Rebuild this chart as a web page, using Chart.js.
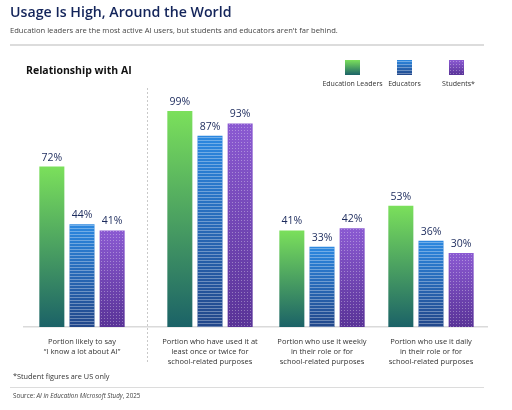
<!DOCTYPE html>
<html><head><meta charset="utf-8">
<script src="https://cdn.jsdelivr.net/npm/chart.js@4/dist/chart.umd.min.js"></script>
<style>
body{margin:0;background:#fff;width:512px;height:410px;overflow:hidden;font-family:"Open Sans",sans-serif;}
#wrap{position:relative;width:512px;height:410px;}
canvas{position:absolute;left:0;top:0;}
.t{position:absolute;white-space:nowrap;line-height:1;}
.rule{position:absolute;left:10px;width:474px;height:1px;background:#dcdcdc;}
</style></head><body>
<div id="wrap">
<canvas id="c" width="512" height="410"></canvas>
<div class="t" style="left:10px;top:5px;font-size:14.2px;font-weight:600;color:#13245a">Usage Is High, Around the World</div>
<div class="t" style="left:10px;top:27px;font-size:7.6px;color:#444">Education leaders are the most active AI users, but students and educators aren't far behind.</div>
<div class="rule" style="top:44px;height:1.5px"></div>
<div class="t" style="left:26px;top:65px;font-size:10.5px;font-weight:700;color:#111">Relationship with AI</div>
<div class="t" style="left:13px;top:373px;font-size:7.3px;color:#333">*Student figures are US only</div>
<div class="rule" style="top:387px"></div>
<div class="t" style="left:13px;top:393px;font-size:6.3px;color:#444">Source: <i>AI in Education Microsoft Study</i>, 2025</div>
</div>
<script>
// ---- data ----
const categories = [
  ["Portion likely to say", "\u201CI know a lot about AI\u201D"],
  ["Portion who have used it at", "least once or twice for", "school-related purposes"],
  ["Portion who use it weekly", "in their role or for", "school-related purposes"],
  ["Portion who use it daily", "in their role or for", "school-related purposes"]
];
const seriesNames = ["Education Leaders", "Educators", "Students*"];
const educationLeaders = [72, 99, 41, 53];
const educators = [44, 87, 33, 36];
const students = [41, 93, 42, 30];

// ---- layout (horizontal group centres, in axis units) ----
const groupX = [58, 186, 298, 407];
const Y_MIN = -6;

const palettes = [
  {top: '#7be05b', bottom: '#1b6267'},
  {top: '#2c88e0', bottom: '#22478a'},
  {top: '#8b5ad2', bottom: '#593397'}
];

function makeGrad(c, top, bottom, p) {
  const g = c.createLinearGradient(0, top, 0, bottom);
  g.addColorStop(0, p.top);
  g.addColorStop(1, p.bottom);
  return g;
}

function barColor(i) {
  return function(ctx) {
    const chart = ctx.chart;
    if (ctx.type !== 'data' || !chart.chartArea) return palettes[i].top;
    const ys = chart.scales.y;
    const top = ys.getPixelForValue(ctx.parsed.y);
    const bottom = ys.getPixelForValue(Y_MIN);
    return makeGrad(chart.ctx, top, bottom, palettes[i]);
  };
}

function drawTexture(c, i, x0, y0, w, h) {
  c.save();
  c.beginPath(); c.rect(x0, y0, w, h); c.clip();
  if (i === 1) {
    c.fillStyle = 'rgba(255,255,255,0.33)';
    for (let y = y0 + 1; y < y0 + h; y += 3) c.fillRect(x0, Math.round(y), w, 1);
  } else if (i === 2) {
    c.fillStyle = 'rgba(255,255,255,0.33)';
    for (let y = y0 + 1; y < y0 + h; y += 3)
      for (let x = x0 + 1; x < x0 + w; x += 3) c.fillRect(Math.round(x), Math.round(y), 1, 1);
  }
  c.restore();
}

const builder = vals => vals.map((v, k) => ({x: groupX[k], y: v}));
const seriesValues = [educationLeaders, educators, students];

const decor = {
  id: 'decor',
  beforeDatasetsDraw(chart) {
    const c = chart.ctx, xs = chart.scales.x;
    const x = Math.round((xs.getPixelForValue(groupX[0]) + xs.getPixelForValue(groupX[1])) / 2) + 1.5;
    c.save();
    c.strokeStyle = '#c9c9c9'; c.lineWidth = 1; c.setLineDash([2, 2]);
    c.beginPath(); c.moveTo(x, 88); c.lineTo(x, 364); c.stroke();
    c.restore();
  },
  afterDatasetsDraw(chart) {
    const c = chart.ctx;
    chart.data.datasets.forEach((ds, i) => {
      const meta = chart.getDatasetMeta(i);
      meta.data.forEach((bar, k) => {
        const p = bar.getProps(['x', 'y', 'base', 'width'], true);
        drawTexture(c, i, p.x - p.width / 2, p.y, p.width, p.base - p.y);
        c.save();
        c.fillStyle = '#1b2a5c';
        c.font = '500 10.5px "Open Sans", sans-serif';
        c.textAlign = 'center'; c.textBaseline = 'middle';
        c.fillText(ds.data[k].y + '%', p.x, p.y - 9);
        c.restore();
      });
    });
    // legend
    const centres = [352.5, 404.5, 456.5];
    chart.data.datasets.forEach((ds, i) => {
      const x0 = centres[i] - 7.5, y0 = 60, s = 15;
      c.save();
      c.fillStyle = makeGrad(c, y0, y0 + s, palettes[i]);
      c.fillRect(x0, y0, s, s);
      drawTexture(c, i, x0, y0, s, s);
      c.fillStyle = '#333';
      c.font = '7px "Open Sans", sans-serif';
      c.textAlign = 'center'; c.textBaseline = 'middle';
      c.fillText(ds.label, centres[i] + (i === 2 ? 2 : 0), 84);
      c.restore();
    });
  }
};

new Chart(document.getElementById('c'), {
  type: 'bar',
  data: {
    datasets: seriesNames.map((name, i) => ({
      label: name,
      data: builder(seriesValues[i]),
      backgroundColor: barColor(i),
      base: Y_MIN,
      borderWidth: 0,
      barPercentage: 0.83,
      categoryPercentage: 0.83
    }))
  },
  options: {
    responsive: false,
    animation: false,
    layout: {padding: {left: 24, right: 25, top: 109, bottom: 33}},
    plugins: {legend: {display: false}, tooltip: {enabled: false}},
    scales: {
      x: {
        type: 'linear', min: 0, max: 463, offset: false,
        afterBuildTicks: scale => { scale.ticks = groupX.map(v => ({value: v})); },
        grid: {display: false, drawTicks: false},
        border: {display: true, color: '#dadada', width: 1.5},
        ticks: {
          padding: 10,
          autoSkip: false, maxRotation: 0,
          color: '#333',
          font: {family: '"Open Sans", sans-serif', size: 7.5, lineHeight: 1.33},
          callback: (v, idx) => categories[idx]
        }
      },
      y: {display: false, min: Y_MIN, max: 100}
    }
  },
  plugins: [decor]
});
</script>
</body></html>
